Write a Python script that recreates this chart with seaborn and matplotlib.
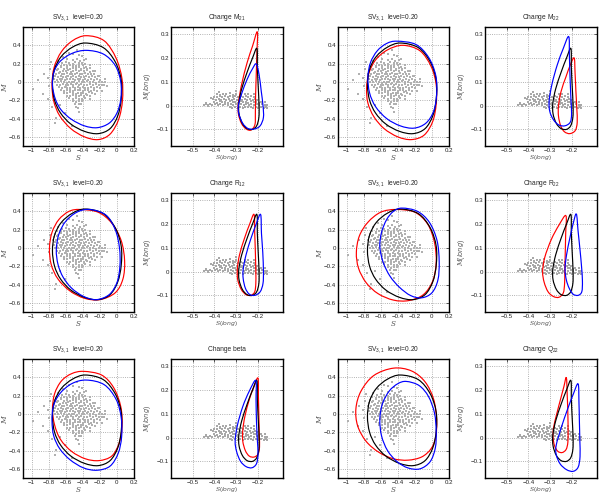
import pandas as pd
import matplotlib
matplotlib.use("Agg")
import matplotlib.pyplot as plt
from matplotlib.path import Path
from matplotlib.patches import PathPatch
import seaborn as sns

# ---- gray simulation clouds (same in every panel of a kind) ----
sv_cloud = [
    (-0.58, 0.245), (-0.51, 0.235), (-0.47, 0.25), (-0.43, 0.232), (-0.39, 0.242),
    (-0.64, 0.205), (-0.60, 0.215), (-0.56, 0.21), (-0.52, 0.2), (-0.49, 0.222), (-0.45, 0.205), (-0.41, 0.212), (-0.37, 0.198),
    (-0.70, 0.18), (-0.66, 0.172), (-0.62, 0.19), (-0.58, 0.17), (-0.545, 0.186), (-0.51, 0.178), (-0.475, 0.172), (-0.44, 0.19),
    (-0.40, 0.18), (-0.36, 0.168), (-0.32, 0.185),
    (-0.72, 0.15), (-0.685, 0.142), (-0.65, 0.158), (-0.615, 0.145), (-0.58, 0.152), (-0.545, 0.14), (-0.51, 0.156), (-0.48, 0.147),
    (-0.45, 0.16), (-0.42, 0.142), (-0.385, 0.152), (-0.35, 0.145), (-0.31, 0.155),
    (-0.735, 0.12), (-0.70, 0.128), (-0.665, 0.113), (-0.63, 0.124), (-0.60, 0.118), (-0.57, 0.13), (-0.54, 0.112), (-0.51, 0.122),
    (-0.48, 0.128), (-0.45, 0.115), (-0.42, 0.125), (-0.39, 0.118), (-0.355, 0.128), (-0.32, 0.112), (-0.285, 0.12),
    (-0.745, 0.09), (-0.71, 0.082), (-0.675, 0.097), (-0.645, 0.088), (-0.615, 0.083), (-0.585, 0.095), (-0.555, 0.087), (-0.525, 0.092),
    (-0.495, 0.082), (-0.465, 0.096), (-0.435, 0.088), (-0.405, 0.084), (-0.375, 0.095), (-0.34, 0.087), (-0.305, 0.092), (-0.27, 0.082),
    (-0.73, 0.06), (-0.695, 0.054), (-0.66, 0.067), (-0.63, 0.058), (-0.60, 0.052), (-0.57, 0.064), (-0.54, 0.057), (-0.51, 0.062),
    (-0.48, 0.052), (-0.45, 0.066), (-0.42, 0.058), (-0.39, 0.054), (-0.36, 0.065), (-0.325, 0.056), (-0.29, 0.062), (-0.255, 0.053),
    (-0.225, 0.06),
    (-0.74, 0.03), (-0.705, 0.024), (-0.67, 0.037), (-0.64, 0.028), (-0.61, 0.022), (-0.58, 0.034), (-0.55, 0.027), (-0.52, 0.032),
    (-0.49, 0.022), (-0.46, 0.036), (-0.43, 0.028), (-0.40, 0.024), (-0.37, 0.035), (-0.335, 0.026), (-0.30, 0.032), (-0.265, 0.023),
    (-0.23, 0.03), (-0.195, 0.025),
    (-0.72, 0.0), (-0.685, -0.006), (-0.65, 0.007), (-0.62, -0.002), (-0.59, -0.008), (-0.56, 0.004), (-0.53, -0.003), (-0.50, 0.002),
    (-0.47, -0.008), (-0.44, 0.006), (-0.41, -0.002), (-0.38, -0.006), (-0.35, 0.005), (-0.315, -0.004), (-0.28, 0.002), (-0.245, -0.007),
    (-0.21, 0.0), (-0.175, -0.005), (-0.145, 0.003),
    (-0.70, -0.03), (-0.665, -0.036), (-0.63, -0.023), (-0.60, -0.032), (-0.57, -0.038), (-0.54, -0.026), (-0.51, -0.033), (-0.48, -0.028),
    (-0.45, -0.038), (-0.42, -0.024), (-0.39, -0.032), (-0.355, -0.036), (-0.32, -0.025), (-0.285, -0.034), (-0.25, -0.028), (-0.215, -0.037),
    (-0.18, -0.03), (-0.15, -0.035),
    (-0.68, -0.06), (-0.645, -0.066), (-0.61, -0.053), (-0.58, -0.062), (-0.55, -0.068), (-0.52, -0.056), (-0.49, -0.063), (-0.46, -0.058),
    (-0.43, -0.068), (-0.40, -0.054), (-0.37, -0.062), (-0.335, -0.066), (-0.30, -0.055), (-0.265, -0.064), (-0.23, -0.058), (-0.195, -0.066),
    (-0.65, -0.09), (-0.615, -0.096), (-0.58, -0.083), (-0.55, -0.092), (-0.52, -0.098), (-0.49, -0.086), (-0.46, -0.093), (-0.43, -0.088),
    (-0.40, -0.098), (-0.37, -0.084), (-0.335, -0.092), (-0.30, -0.096), (-0.265, -0.085), (-0.23, -0.094),
    (-0.62, -0.12), (-0.585, -0.126), (-0.55, -0.113), (-0.515, -0.122), (-0.485, -0.128), (-0.455, -0.116), (-0.425, -0.123), (-0.395, -0.118),
    (-0.36, -0.128), (-0.325, -0.114), (-0.29, -0.122), (-0.255, -0.127),
    (-0.59, -0.15), (-0.55, -0.156), (-0.51, -0.143), (-0.475, -0.152), (-0.445, -0.158), (-0.415, -0.146), (-0.38, -0.153), (-0.345, -0.148),
    (-0.31, -0.157),
    (-0.56, -0.18), (-0.515, -0.186), (-0.475, -0.173), (-0.44, -0.182), (-0.405, -0.188), (-0.37, -0.176),
    (-0.52, -0.21), (-0.475, -0.216), (-0.44, -0.203), (-0.405, -0.212),
    (-0.49, -0.24), (-0.45, -0.246), (-0.42, -0.236),
    (-0.98, -0.08), (-0.93, 0.02), (-0.87, -0.13), (-0.85, 0.09), (-0.81, 0.04), (-0.79, -0.04), (-0.78, 0.14), (-0.76, -0.27),
    (-0.73, -0.45), (-0.71, -0.39), (-0.67, -0.25), (-0.63, 0.27), (-0.56, 0.32), (-0.51, 0.30), (-0.47, 0.35), (-0.46, -0.29),
    (-0.45, -0.33), (-0.41, 0.28), (-0.36, 0.25), (-0.31, -0.19), (-0.26, 0.12), (-0.21, 0.07), (-0.14, 0.03), (-0.12, -0.05),
    (-0.18, -0.10), (-0.61, -0.34), (-0.81, -0.19), (-0.53, -0.48), (-0.77, 0.22), (-0.69, 0.23), (-0.48, -0.27), (-0.44, 0.29),
]

ch_cloud = [
    (-0.39, 0.049), (-0.375, 0.046), (-0.36, 0.05), (-0.345, 0.047), (-0.33, 0.051), (-0.315, 0.046), (-0.30, 0.049), (-0.26, 0.048),
    (-0.245, 0.05),
    (-0.40, 0.037), (-0.388, 0.034), (-0.376, 0.039), (-0.364, 0.035), (-0.352, 0.038), (-0.34, 0.034), (-0.328, 0.039), (-0.316, 0.036),
    (-0.304, 0.038), (-0.292, 0.034), (-0.28, 0.039), (-0.268, 0.035), (-0.256, 0.038), (-0.244, 0.034), (-0.232, 0.039), (-0.22, 0.036),
    (-0.405, 0.026), (-0.393, 0.023), (-0.381, 0.028), (-0.369, 0.024), (-0.357, 0.027), (-0.345, 0.023), (-0.333, 0.028), (-0.321, 0.025),
    (-0.309, 0.027), (-0.297, 0.023), (-0.285, 0.028), (-0.273, 0.024), (-0.261, 0.027), (-0.249, 0.023), (-0.237, 0.028), (-0.225, 0.025),
    (-0.213, 0.027), (-0.205, 0.023),
    (-0.40, 0.015), (-0.388, 0.012), (-0.376, 0.017), (-0.364, 0.013), (-0.352, 0.016), (-0.34, 0.012), (-0.328, 0.017), (-0.316, 0.014),
    (-0.304, 0.016), (-0.292, 0.012), (-0.28, 0.017), (-0.268, 0.013), (-0.256, 0.016), (-0.244, 0.012), (-0.232, 0.017), (-0.22, 0.014),
    (-0.208, 0.016), (-0.196, 0.012), (-0.184, 0.015),
    (-0.45, 0.003), (-0.44, 0.006), (-0.43, 0.001), (-0.42, 0.005), (-0.41, 0.002), (-0.398, 0.005), (-0.386, 0.001), (-0.374, 0.006),
    (-0.362, 0.002), (-0.35, 0.005), (-0.338, 0.001), (-0.326, 0.006), (-0.314, 0.003), (-0.302, 0.005), (-0.29, 0.001), (-0.278, 0.006),
    (-0.266, 0.002), (-0.254, 0.005), (-0.242, 0.001), (-0.23, 0.006), (-0.218, 0.003), (-0.206, 0.005), (-0.194, 0.001), (-0.182, 0.006),
    (-0.17, 0.002), (-0.16, 0.004),
    (-0.33, -0.007), (-0.318, -0.01), (-0.306, -0.005), (-0.294, -0.009), (-0.282, -0.006), (-0.27, -0.01), (-0.258, -0.005), (-0.246, -0.008),
    (-0.234, -0.006), (-0.222, -0.01), (-0.21, -0.005), (-0.198, -0.009), (-0.186, -0.006), (-0.174, -0.01), (-0.165, -0.006),
    (-0.44, 0.012), (-0.43, -0.004), (-0.38, 0.056), (-0.30, 0.06), (-0.22, 0.05), (-0.16, -0.012), (-0.17, 0.013), (-0.415, 0.03),
]

# ---- black reference loops, identical in all panels ----
sv_black = [(-0.37, 0.425), (-0.16, 0.375), (-0.02, 0.22), (0.05, 0.02), (0.05, -0.19), (0.01, -0.37), (-0.08, -0.51),
            (-0.22, -0.565), (-0.38, -0.54), (-0.54, -0.46), (-0.66, -0.34), (-0.73, -0.20), (-0.755, -0.03),
            (-0.73, 0.14), (-0.65, 0.28), (-0.52, 0.38)]
ch_black = [(-0.205, 0.24), (-0.203, 0.16), (-0.199, 0.08), (-0.195, 0.0), (-0.196, -0.05), (-0.206, -0.085), (-0.225, -0.10),
            (-0.25, -0.097), (-0.272, -0.075), (-0.287, -0.035), (-0.288, 0.01), (-0.275, 0.07), (-0.25, 0.14), (-0.225, 0.20)]

# ---- Change M21 ----
sv_red_m21 = [(-0.36, 0.505), (-0.15, 0.45), (-0.01, 0.26), (0.06, 0.03), (0.065, -0.20), (0.02, -0.41), (-0.08, -0.57),
              (-0.22, -0.63), (-0.38, -0.60), (-0.54, -0.51), (-0.67, -0.37), (-0.74, -0.21), (-0.76, -0.03),
              (-0.735, 0.16), (-0.65, 0.33), (-0.52, 0.45)]
sv_blue_m21 = [(-0.36, 0.345), (-0.16, 0.305), (-0.02, 0.18), (0.045, 0.0), (0.045, -0.19), (0.0, -0.34), (-0.09, -0.45),
               (-0.23, -0.50), (-0.38, -0.48), (-0.53, -0.41), (-0.65, -0.31), (-0.72, -0.19), (-0.755, -0.04),
               (-0.74, 0.10), (-0.67, 0.22), (-0.53, 0.31)]
ch_red_m21 = [(-0.203, 0.31), (-0.205, 0.22), (-0.208, 0.13), (-0.211, 0.04), (-0.212, -0.03), (-0.214, -0.08), (-0.232, -0.103),
              (-0.255, -0.098), (-0.276, -0.075), (-0.29, -0.035), (-0.29, 0.01), (-0.275, 0.09), (-0.25, 0.18), (-0.225, 0.25)]
ch_blue_m21 = [(-0.208, 0.175), (-0.195, 0.13), (-0.185, 0.06), (-0.177, 0.0), (-0.175, -0.05), (-0.19, -0.085), (-0.215, -0.098),
               (-0.245, -0.097), (-0.27, -0.075), (-0.288, -0.035), (-0.29, 0.0), (-0.275, 0.05), (-0.25, 0.11), (-0.225, 0.155)]

# ---- Change M22 ----
sv_red_m22 = [(-0.34, 0.40), (-0.14, 0.34), (-0.01, 0.17), (0.05, -0.03), (0.05, -0.24), (0.01, -0.43), (-0.09, -0.58),
              (-0.24, -0.63), (-0.40, -0.60), (-0.56, -0.51), (-0.68, -0.38), (-0.75, -0.23), (-0.765, -0.07),
              (-0.74, 0.09), (-0.66, 0.24), (-0.52, 0.35)]
sv_blue_m22 = [(-0.41, 0.445), (-0.19, 0.41), (-0.04, 0.27), (0.045, 0.07), (0.055, -0.14), (0.02, -0.32), (-0.07, -0.45),
               (-0.21, -0.505), (-0.37, -0.48), (-0.53, -0.40), (-0.66, -0.27), (-0.73, -0.12), (-0.75, 0.05),
               (-0.72, 0.21), (-0.64, 0.34), (-0.53, 0.42)]
ch_red_m22 = [(-0.19, 0.20), (-0.186, 0.14), (-0.182, 0.06), (-0.178, -0.01), (-0.176, -0.07), (-0.185, -0.105), (-0.21, -0.118),
              (-0.235, -0.11), (-0.252, -0.085), (-0.262, -0.045), (-0.262, 0.0), (-0.25, 0.06), (-0.228, 0.12), (-0.208, 0.17)]
ch_blue_m22 = [(-0.215, 0.29), (-0.212, 0.21), (-0.209, 0.12), (-0.205, 0.03), (-0.202, -0.035), (-0.208, -0.07), (-0.232, -0.085),
               (-0.26, -0.082), (-0.285, -0.06), (-0.302, -0.025), (-0.305, 0.02), (-0.292, 0.09), (-0.268, 0.17), (-0.24, 0.24)]

# ---- Change R12 ----
sv_red_r12 = [(-0.43, 0.42), (-0.22, 0.39), (-0.06, 0.27), (0.05, 0.08), (0.09, -0.14), (0.07, -0.34), (-0.02, -0.49),
              (-0.20, -0.565), (-0.38, -0.55), (-0.55, -0.47), (-0.69, -0.34), (-0.77, -0.18), (-0.79, 0.0),
              (-0.76, 0.17), (-0.68, 0.31), (-0.56, 0.40)]
sv_blue_r12 = [(-0.32, 0.42), (-0.13, 0.36), (-0.02, 0.20), (0.03, 0.0), (0.035, -0.20), (0.0, -0.38), (-0.09, -0.51),
               (-0.24, -0.565), (-0.39, -0.53), (-0.53, -0.44), (-0.63, -0.32), (-0.69, -0.18), (-0.71, -0.02),
               (-0.68, 0.15), (-0.60, 0.29), (-0.47, 0.39)]
ch_red_r12 = [(-0.218, 0.24), (-0.215, 0.16), (-0.212, 0.08), (-0.21, 0.0), (-0.21, -0.05), (-0.215, -0.085), (-0.232, -0.10),
              (-0.255, -0.097), (-0.277, -0.075), (-0.293, -0.035), (-0.295, 0.01), (-0.285, 0.07), (-0.262, 0.14), (-0.238, 0.20)]
ch_blue_r12 = [(-0.188, 0.24), (-0.184, 0.16), (-0.178, 0.08), (-0.175, 0.0), (-0.177, -0.05), (-0.19, -0.085), (-0.215, -0.10),
               (-0.24, -0.095), (-0.258, -0.07), (-0.268, -0.03), (-0.268, 0.01), (-0.255, 0.07), (-0.232, 0.14), (-0.208, 0.20)]

# ---- Change R22 ----
sv_red_r22 = [(-0.42, 0.42), (-0.20, 0.39), (-0.05, 0.26), (0.03, 0.06), (0.05, -0.16), (0.01, -0.36), (-0.10, -0.51),
              (-0.27, -0.575), (-0.45, -0.57), (-0.63, -0.50), (-0.77, -0.38), (-0.86, -0.22), (-0.885, -0.05),
              (-0.85, 0.13), (-0.75, 0.28), (-0.60, 0.39)]
sv_blue_r22 = [(-0.35, 0.435), (-0.17, 0.40), (-0.03, 0.28), (0.06, 0.08), (0.085, -0.15), (0.07, -0.35), (0.0, -0.49),
               (-0.12, -0.545), (-0.25, -0.52), (-0.38, -0.43), (-0.49, -0.31), (-0.57, -0.16), (-0.61, 0.01),
               (-0.59, 0.17), (-0.53, 0.31), (-0.45, 0.40)]
ch_red_r22 = [(-0.228, 0.235), (-0.229, 0.16), (-0.231, 0.08), (-0.233, 0.0), (-0.234, -0.05), (-0.24, -0.09), (-0.26, -0.108),
              (-0.285, -0.105), (-0.31, -0.085), (-0.328, -0.045), (-0.335, 0.0), (-0.325, 0.06), (-0.295, 0.135), (-0.26, 0.195)]
ch_blue_r22 = [(-0.18, 0.242), (-0.172, 0.17), (-0.163, 0.09), (-0.156, 0.02), (-0.152, -0.04), (-0.155, -0.085), (-0.172, -0.10),
               (-0.195, -0.095), (-0.213, -0.07), (-0.226, -0.035), (-0.232, 0.01), (-0.225, 0.07), (-0.21, 0.14), (-0.195, 0.20)]

# ---- Change beta ----
sv_red_beta = [(-0.39, 0.465), (-0.18, 0.425), (-0.04, 0.29), (0.045, 0.08), (0.06, -0.14), (0.025, -0.32), (-0.06, -0.46),
               (-0.21, -0.51), (-0.37, -0.49), (-0.53, -0.41), (-0.66, -0.28), (-0.73, -0.12), (-0.755, 0.05),
               (-0.73, 0.22), (-0.65, 0.36), (-0.53, 0.44)]
sv_blue_beta = [(-0.36, 0.37), (-0.15, 0.32), (-0.01, 0.16), (0.05, -0.04), (0.055, -0.25), (0.015, -0.43), (-0.08, -0.57),
                (-0.23, -0.615), (-0.39, -0.59), (-0.55, -0.50), (-0.67, -0.38), (-0.74, -0.24), (-0.76, -0.08),
                (-0.745, 0.08), (-0.67, 0.22), (-0.53, 0.33)]
ch_red_beta = [(-0.2, 0.25), (-0.198, 0.17), (-0.196, 0.09), (-0.194, 0.01), (-0.193, -0.04), (-0.2, -0.07), (-0.218, -0.082),
               (-0.24, -0.078), (-0.258, -0.055), (-0.27, -0.015), (-0.27, 0.03), (-0.26, 0.09), (-0.24, 0.16), (-0.22, 0.21)]
ch_blue_beta = [(-0.21, 0.24), (-0.209, 0.16), (-0.207, 0.07), (-0.203, -0.01), (-0.2, -0.07), (-0.207, -0.11), (-0.228, -0.127),
                (-0.255, -0.122), (-0.28, -0.10), (-0.298, -0.06), (-0.305, -0.015), (-0.295, 0.05), (-0.27, 0.13), (-0.24, 0.195)]

# ---- Change Q22 ----
sv_red_q22 = [(-0.45, 0.50), (-0.24, 0.47), (-0.08, 0.35), (0.02, 0.16), (0.055, -0.06), (0.045, -0.25), (-0.01, -0.38),
              (-0.12, -0.47), (-0.28, -0.505), (-0.45, -0.49), (-0.62, -0.42), (-0.77, -0.30), (-0.87, -0.13),
              (-0.89, 0.06), (-0.83, 0.25), (-0.68, 0.42)]
sv_blue_q22 = [(-0.30, 0.355), (-0.15, 0.31), (-0.04, 0.19), (0.03, 0.01), (0.05, -0.19), (0.04, -0.37), (-0.02, -0.52),
               (-0.14, -0.60), (-0.28, -0.59), (-0.41, -0.52), (-0.52, -0.40), (-0.59, -0.24), (-0.61, -0.06),
               (-0.58, 0.11), (-0.50, 0.25), (-0.40, 0.33)]
ch_red_q22 = [(-0.226, 0.252), (-0.222, 0.18), (-0.219, 0.10), (-0.218, 0.03), (-0.219, -0.02), (-0.227, -0.05), (-0.245, -0.063),
              (-0.265, -0.058), (-0.28, -0.035), (-0.287, 0.0), (-0.285, 0.04), (-0.27, 0.10), (-0.25, 0.17), (-0.237, 0.215)]
ch_blue_q22 = [(-0.172, 0.226), (-0.168, 0.15), (-0.166, 0.07), (-0.164, -0.01), (-0.163, -0.08), (-0.172, -0.125), (-0.195, -0.142),
               (-0.225, -0.135), (-0.255, -0.11), (-0.273, -0.07), (-0.272, -0.03), (-0.25, 0.04), (-0.22, 0.12), (-0.195, 0.18)]

# ---- titles and ticks ----
sv_title = "SV$_{3,1}$  level=0.20"
sv_xticks = [-1, -0.8, -0.6, -0.4, -0.2, 0, 0.2]
sv_xticklabels = ["\u22121", "\u22120.8", "\u22120.6", "\u22120.4", "\u22120.2", "0", "0.2"]
sv_yticks = [-0.6, -0.4, -0.2, 0, 0.2, 0.4]
sv_yticklabels = ["\u22120.6", "\u22120.4", "\u22120.2", "0", "0.2", "0.4"]
ch_xticks = [-0.5, -0.4, -0.3, -0.2]
ch_xticklabels = ["\u22120.5", "\u22120.4", "\u22120.3", "\u22120.2"]
ch_yticks = [-0.1, 0, 0.1, 0.2, 0.3]
ch_yticklabels = ["\u22120.1", "0", "0.1", "0.2", "0.3"]

# (title, sv red, sv blue, change red, change blue, row, column pair)
panels = [
    ("Change M$_{21}$", sv_red_m21, sv_blue_m21, ch_red_m21, ch_blue_m21, 0, 0),
    ("Change M$_{22}$", sv_red_m22, sv_blue_m22, ch_red_m22, ch_blue_m22, 0, 1),
    ("Change R$_{12}$", sv_red_r12, sv_blue_r12, ch_red_r12, ch_blue_r12, 1, 0),
    ("Change R$_{22}$", sv_red_r22, sv_blue_r22, ch_red_r22, ch_blue_r22, 1, 1),
    ("Change beta", sv_red_beta, sv_blue_beta, ch_red_beta, ch_blue_beta, 2, 0),
    ("Change Q$_{22}$", sv_red_q22, sv_blue_q22, ch_red_q22, ch_blue_q22, 2, 1),
]

sns.set_style("white")
plt.rcParams['font.family'] = ['Liberation Sans', 'DejaVu Sans']
plt.rcParams['mathtext.fontset'] = 'custom'
plt.rcParams['mathtext.rm'] = 'Liberation Sans'
plt.rcParams['mathtext.cal'] = 'DejaVu Serif:italic'

W, H = 602, 495
fig = plt.figure(figsize=(W / 100, H / 100), dpi=100)

row_top = [27, 193, 359]
sv_left = [23, 338]
ch_left = [171, 485]
ax_w, ax_h = 111, 119

sv_df = pd.DataFrame(sv_cloud, columns=["x", "y"])
ch_df = pd.DataFrame(ch_cloud, columns=["x", "y"])


def draw_loop(ax, pts, color):
    # closed smooth curve through the read points (cubic Bezier segments)
    n = len(pts)
    verts = [pts[0]]
    codes = [Path.MOVETO]
    for i in range(n):
        p0, p1, p2, p3 = pts[i - 1], pts[i], pts[(i + 1) % n], pts[(i + 2) % n]
        c1 = (p1[0] + (p2[0] - p0[0]) / 6, p1[1] + (p2[1] - p0[1]) / 6)
        c2 = (p2[0] - (p3[0] - p1[0]) / 6, p2[1] - (p3[1] - p1[1]) / 6)
        verts += [c1, c2, p2]
        codes += [Path.CURVE4] * 3
    ax.add_patch(PathPatch(Path(verts, codes), fill=False, edgecolor=color,
                           lw=0.85, zorder=3))


def style_axes(ax, xt, xtl, yt, ytl):
    ax.set_xticks(xt)
    ax.set_xticklabels(xtl)
    ax.set_yticks(yt)
    ax.set_yticklabels(ytl)
    ax.tick_params(direction="in", length=2, width=0.5, labelsize=4.4, pad=1.5,
                   top=True, right=True, colors="#222222")
    ax.grid(True, linestyle=":", color="#9a9a9a", lw=0.6)
    ax.set_axisbelow(True)
    for s in ax.spines.values():
        s.set_linewidth(1.0)
        s.set_color("black")


for title, svr, svb, chr_, chb, r, c in panels:
    top = row_top[r]
    ax = fig.add_axes([sv_left[c] / W, 1 - (top + ax_h) / H, ax_w / W, ax_h / H])
    sns.scatterplot(data=sv_df, x="x", y="y", color="#b0b0b0", s=3.5, marker="s",
                    linewidth=0, ax=ax, zorder=2)
    draw_loop(ax, svr, "red")
    draw_loop(ax, sv_black, "black")
    draw_loop(ax, svb, "blue")
    ax.set_xlim(-1.1, 0.2)
    ax.set_ylim(-0.7, 0.6)
    style_axes(ax, sv_xticks, sv_xticklabels, sv_yticks, sv_yticklabels)
    ax.set_title(sv_title, fontsize=4.8, pad=6)
    ax.set_xlabel(r"$\mathcal{S}$", fontsize=5.2, color="#555555")
    ax.set_ylabel(r"$\mathcal{M}$", fontsize=5.5, color="#555555")
    ax.xaxis.set_label_coords(0.5, -0.058)
    ax.yaxis.set_label_coords(-0.125, 0.5)

    ax = fig.add_axes([ch_left[c] / W, 1 - (top + ax_h) / H, (ax_w + 1) / W, ax_h / H])
    sns.scatterplot(data=ch_df, x="x", y="y", color="#a8a8a8", s=4, marker="s",
                    linewidth=0, ax=ax, zorder=2)
    draw_loop(ax, chr_, "red")
    draw_loop(ax, ch_black, "black")
    draw_loop(ax, chb, "blue")
    ax.set_xlim(-0.6, -0.085)
    ax.set_ylim(-0.17, 0.33)
    style_axes(ax, ch_xticks, ch_xticklabels, ch_yticks, ch_yticklabels)
    ax.set_title(title, fontsize=4.8, pad=6)
    ax.set_xlabel(r"$\mathcal{S}(long)$", fontsize=4.4, color="#555555")
    ax.set_ylabel(r"$\mathcal{M}(long)$", fontsize=4.8, color="#555555")
    ax.xaxis.set_label_coords(0.5, -0.058)
    ax.yaxis.set_label_coords(-0.16, 0.5)

fig.savefig("out.png", dpi=100)
